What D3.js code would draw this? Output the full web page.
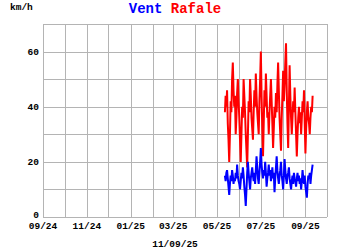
<!DOCTYPE html>
<html>
<head>
<meta charset="utf-8">
<script src="https://cdn.jsdelivr.net/npm/d3@7"></script>
<style>
  body { margin: 0; background: #fff; }
  svg text { font-family: "Liberation Mono", "DejaVu Sans Mono", monospace; font-weight: bold; }
</style>
</head>
<body>
<svg id="chart" width="350" height="250"></svg>
<script>
// DATA
const startDay = "2025-05-12";
const dateLabel = "11/09/25";
const yTicks = [0, 20, 40, 60];
const monthTickLabels = ["09/24", "11/24", "01/25", "03/25", "05/25", "07/25", "09/25"];

// wind speed (km/h), one value per day
const vent = [
  15, 13, 16, 17, 14, 11, 8, 12, 15, 13,
  17, 15, 12, 14, 13, 16, 14, 19, 15, 13,
  12, 10, 13, 16, 14, 18, 15, 11, 8, 4,
  10, 16, 20, 16, 13, 10, 14, 16, 18, 15,
  13, 16, 12, 17, 22, 18, 14, 12, 16, 20,
  25, 19, 16, 14, 17, 15, 20, 16, 11, 14,
  16, 19, 15, 17, 13, 15, 18, 14, 16, 9,
  14, 18, 22, 17, 14, 12, 15, 17, 20, 15,
  13, 10, 15, 21, 17, 14, 12, 15, 16, 18,
  14, 12, 10, 13, 15, 12, 16, 14, 13, 11,
  14, 16, 13, 15, 12, 14, 10, 13, 17, 14,
  12, 15, 11, 9, 7, 12, 15, 14, 16, 12,
  15, 17, 19
];

// gusts (km/h)
const rafale = [
  38, 44, 40, 46, 34, 28, 20, 30, 42, 38,
  50, 56, 46, 40, 44, 30, 36, 45, 50, 42,
  36, 28, 20, 30, 40, 36, 50, 44, 38, 30,
  24, 18, 30, 42, 38, 50, 44, 36, 32, 28,
  38, 46, 40, 52, 44, 38, 34, 30, 42, 50,
  60, 44, 32, 22, 34, 46, 40, 52, 44, 36,
  38, 30, 38, 44, 50, 42, 34, 25, 32, 40,
  36, 45, 38, 48, 56, 46, 36, 30, 24, 36,
  44, 53, 42, 48, 56, 63, 46, 34, 25, 40,
  55, 44, 36, 30, 36, 42, 38, 47, 38, 30,
  22, 30, 36, 40, 34, 38, 30, 36, 42, 38,
  46, 34, 23, 32, 38, 42, 36, 34, 30, 36,
  40, 38, 44
];

// CANVAS SETUP
const svg = d3.select("#chart");
const margin = { top: 24, right: 23, bottom: 33, left: 43 },
  width = 350 - margin.left - margin.right,
  height = 250 - margin.top - margin.bottom;

const parse = d3.timeParse("%Y-%m-%d");
const day0 = parse(startDay);
const days = vent.map((d, i) => d3.timeDay.offset(day0, i));

const x = d3.scaleTime()
  .domain([parse("2024-09-01"), parse("2025-10-01")])
  .range([margin.left, margin.left + width]);
const y = d3.scaleLinear()
  .domain([0, 70])
  .range([margin.top + height, margin.top]);

const months = d3.timeMonth.range(parse("2024-09-01"), parse("2025-10-02"));

// grid
const grid = svg.append("g").attr("stroke", "#b4b4b4").attr("stroke-width", 1);
grid.selectAll("line.v").data(months).join("line")
  .attr("x1", (d) => Math.round(x(d)) + 0.5).attr("x2", (d) => Math.round(x(d)) + 0.5)
  .attr("y1", margin.top).attr("y2", margin.top + height);
grid.selectAll("line.h").data(d3.range(0, 71, 10)).join("line")
  .attr("x1", margin.left).attr("x2", margin.left + width)
  .attr("y1", (d) => Math.round(y(d)) + 0.5).attr("y2", (d) => Math.round(y(d)) + 0.5);

// axes labels
const labelMonths = months.filter((d, i) => i % 2 === 0);
svg.append("g").selectAll("text").data(labelMonths).join("text")
  .attr("x", (d) => x(d))
  .attr("y", margin.top + height + 11.5)
  .attr("text-anchor", "middle")
  .attr("font-size", 9.5)
  .attr("fill", "#000")
  .text((d, i) => monthTickLabels[i]);

svg.append("g").selectAll("text").data(yTicks).join("text")
  .attr("x", margin.left - 4)
  .attr("y", (d) => (d === 0 ? y(d) + 1 : y(d) + 3))
  .attr("text-anchor", "end")
  .attr("font-size", 9.5)
  .attr("fill", "#000")
  .text((d) => d);

svg.append("text").attr("x", 10).attr("y", 10)
  .attr("font-size", 9.5).attr("fill", "#000").text("km/h");

svg.append("text").attr("x", 175).attr("y", margin.top + height + 30)
  .attr("text-anchor", "middle").attr("font-size", 9.5).attr("fill", "#000")
  .text(dateLabel);

const title = svg.append("text").attr("x", 175).attr("y", 13)
  .attr("text-anchor", "middle").attr("font-size", 14);
title.append("tspan").attr("fill", "#0000ff").text("Vent");
title.append("tspan").attr("fill", "#ff0000").text(" Rafale");

// lines
const line = d3.line()
  .x((d, i) => x(days[i]))
  .y((d) => y(d));

svg.append("path").datum(rafale)
  .attr("fill", "none").attr("stroke", "#ff0000").attr("stroke-width", 2)
  .attr("d", line);
svg.append("path").datum(vent)
  .attr("fill", "none").attr("stroke", "#0000ff").attr("stroke-width", 2)
  .attr("d", line);
</script>
</body>
</html>
